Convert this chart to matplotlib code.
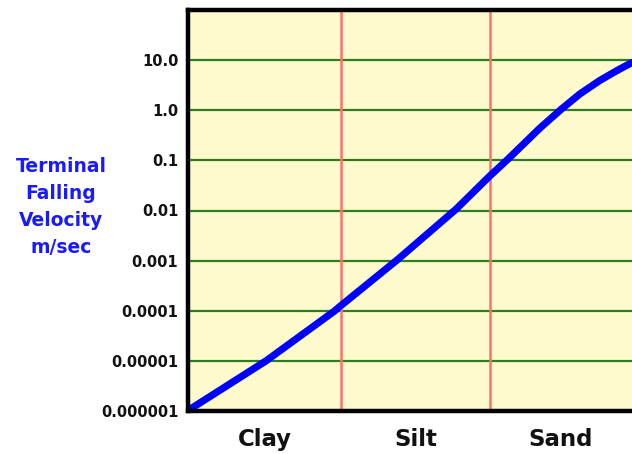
import matplotlib.pyplot as plt

# position along the grain-size axis (1 unit = width of the clay band)
pos = [0.01, 0.51, 0.96, 0.99, 1.37, 1.75, 1.97, 2.09, 2.30, 2.44, 2.56, 2.69, 2.80, 2.90]
# terminal falling velocity, m/sec
velocity = [1.07e-6, 1.0e-5, 1.0e-4, 1.2e-4, 1.05e-3, 1.05e-2, 4.8e-2,
            1.05e-1, 4.4e-1, 1.05, 2.1, 3.9, 6.1, 8.9]

categories = ['Clay', 'Silt', 'Sand']
boundaries = [0.0, 1.0, 1.974, 2.902]
yticks = [1e-6, 1e-5, 1e-4, 1e-3, 1e-2, 1e-1, 1e0, 1e1]
ytick_labels = ['0.000001', '0.00001', '0.0001', '0.001', '0.01', '0.1', '1.0', '10.0']

fig = plt.figure(figsize=(6.32, 4.54), dpi=100)
ax = fig.add_axes([188/632, 43/454, 444/632, 401/454])
ax.set_facecolor('#fdfbcc')

ax.set_yscale('log')
ax.set_ylim(1e-6, 1e2)
ax.set_xlim(boundaries[0], boundaries[-1])
ax.minorticks_off()

ax.set_yticks(yticks)
ax.set_yticklabels(ytick_labels, fontsize=10.5, fontweight='bold', color='#111111')
for y in yticks:
	ax.axhline(y, color='#2f7d22', lw=1.6, zorder=1)
for b in boundaries[1:-1]:
	ax.axvline(b, color='#ff7070', lw=1.8, zorder=2)

ax.plot(pos, velocity, color='#0000ff', lw=5.2, solid_capstyle='round',
	solid_joinstyle='round', zorder=3, clip_on=False)

centers = [(boundaries[i] + boundaries[i+1]) / 2 for i in range(len(categories))]
ax.set_xticks(centers)
ax.set_xticklabels(categories, fontsize=16.5, fontweight='bold', color='#111111')
ax.tick_params(axis='x', length=0, pad=12)
ax.tick_params(axis='y', length=0, pad=7)

for s in ['left', 'top', 'bottom']:
	ax.spines[s].set_linewidth(3.2)
	ax.spines[s].set_color('black')
	ax.spines[s].set_zorder(4)
ax.spines['right'].set_visible(False)

fig.text(61/632, 1 - 207/454, "Terminal\nFalling\nVelocity\nm/sec", ha='center', va='center',
	fontsize=13.5, fontweight='bold', color='#1a1aff', linespacing=1.55)

fig.savefig('out.png', dpi=100)
